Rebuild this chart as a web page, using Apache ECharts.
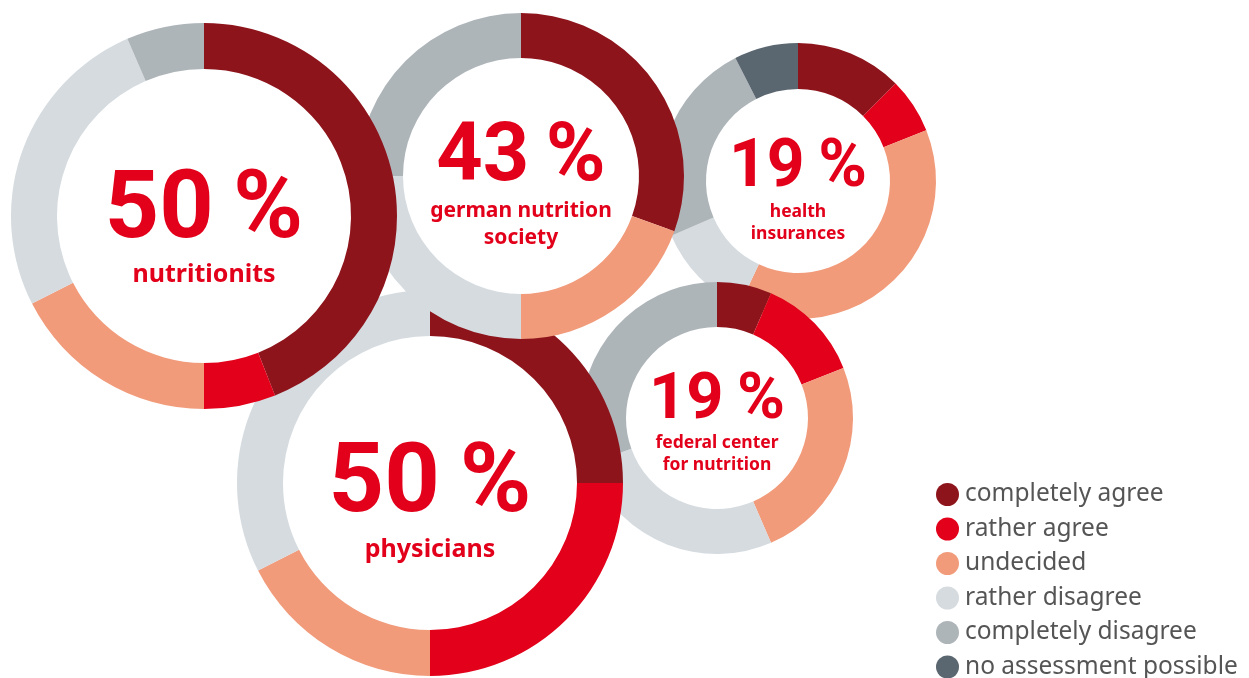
<!DOCTYPE html>
<html>
<head>
<meta charset="utf-8">
<style>
  html, body { margin: 0; padding: 0; background: #ffffff; }
  #chart { width: 1249px; height: 678px; }
</style>
<script src="https://cdn.jsdelivr.net/npm/echarts@6/dist/echarts.min.js"></script>
</head>
<body>
<div id="chart"></div>
<script>
// Answer categories (legend order)
const categories = ['completely agree', 'rather agree', 'undecided', 'rather disagree', 'completely disagree', 'no assessment possible'];

// Group names shown inside each ring
const groupNames = ['nutritionits', 'german nutrition\nsociety', 'health\ninsurances', 'federal center\nfor nutrition', 'physicians'];

// Headline shares shown inside each ring (%)
const headlineValues = [50, 43, 19, 19, 50];

// Answer shares per group (%), in category order
const nutritionists    = [44, 6, 17.5, 26, 6.5, 0];
const germanSociety    = [30.5, 0, 19.5, 25, 25, 0];
const healthInsurances = [12.5, 6.5, 38, 11.5, 24, 7.5];
const federalCenter    = [6.5, 12.5, 24.5, 26, 30.5, 0];
const physicians       = [25, 25, 17.5, 32.5, 0, 0];

const groupValues = [nutritionists, germanSociety, healthInsurances, federalCenter, physicians];

const palette = ['#8e141c', '#e2001a', '#f19b7b', '#d5dbdf', '#aeb5b9', '#5b6770'];
const textRed = '#e2001a';
const fontFamily = '"Noto Sans", sans-serif';
const headFamily = 'Roboto, "Noto Sans", sans-serif';

// Ring geometry and text placement for each group
const layout = [
  { center: [204, 216], radius: [147, 193], z: 5, head: { y: 213, size: 95 }, name: { y: 275, size: 25, lh: 30 } },
  { center: [521, 176], radius: [118, 163], z: 4, head: { y: 160, size: 81 }, name: { y: 225, size: 21, lh: 27 } },
  { center: [798, 181], radius: [92, 138],  z: 1, head: { y: 169, size: 66 }, name: { y: 223, size: 17.5, lh: 22 } },
  { center: [717, 418], radius: [91, 136],  z: 2, head: { y: 401.5, size: 65 }, name: { y: 454.5, size: 17.5, lh: 22 } },
  { center: [430, 483], radius: [147, 193], z: 3, head: { y: 487, size: 97 }, name: { y: 550, size: 25, lh: 30 } }
];

const series = groupValues.map((vals, g) => ({
  type: 'pie',
  name: groupNames[g].replace('\n', ' '),
  center: layout[g].center,
  radius: layout[g].radius,
  z: layout[g].z,
  startAngle: 90,
  clockwise: true,
  silent: true,
  animation: false,
  avoidLabelOverlap: false,
  label: { show: false },
  labelLine: { show: false },
  emphasis: { disabled: true },
  itemStyle: { borderWidth: 0 },
  data: categories.map((c, i) => ({ name: c, value: vals[i], itemStyle: { color: palette[i] } }))
}));

const texts = [];
layout.forEach((l, g) => {
  texts.push({
    type: 'text', z: 100,
    x: l.center[0], y: l.head.y,
    style: {
      text: headlineValues[g] + '\u2009%',
      fill: textRed,
      font: 'bold ' + l.head.size + 'px ' + headFamily,
      textAlign: 'center', textVerticalAlign: 'middle'
    }
  });
  texts.push({
    type: 'text', z: 100,
    x: l.center[0], y: l.name.y,
    style: {
      text: groupNames[g],
      fill: textRed,
      font: 'bold ' + l.name.size + 'px ' + fontFamily,
      lineHeight: l.name.lh,
      textAlign: 'center', textVerticalAlign: 'middle'
    }
  });
});

const chart = echarts.init(document.getElementById('chart'), null, { renderer: 'canvas' });
chart.setOption({
  backgroundColor: '#ffffff',
  animation: false,
  legend: {
    data: categories,
    orient: 'vertical',
    left: 931,
    top: 477,
    height: 230,
    icon: 'circle',
    itemWidth: 23,
    itemHeight: 23,
    itemGap: 9.5,
    selectedMode: false,
    textStyle: { fontFamily: fontFamily, fontSize: 24.5, color: '#555555', padding: [0, 0, 0, 1] }
  },
  series: series,
  graphic: texts
});
</script>
</body>
</html>
